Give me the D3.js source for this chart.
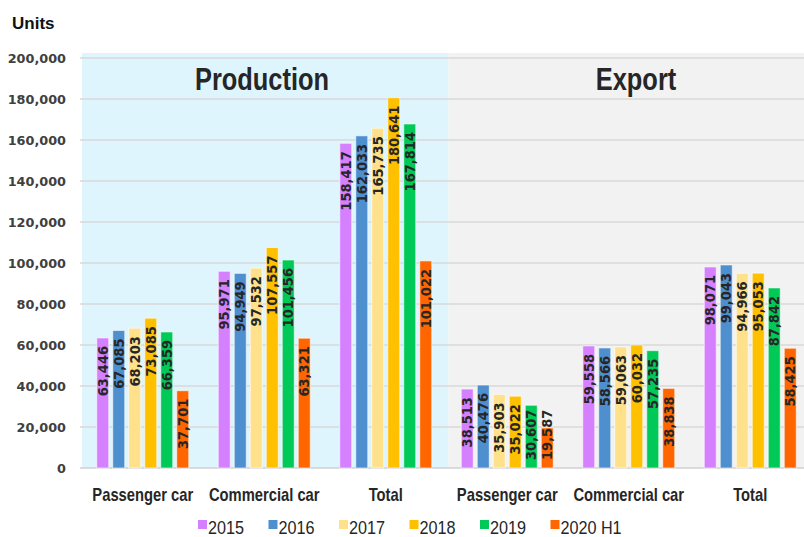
<!DOCTYPE html>
<html>
<head>
<meta charset="utf-8">
<script src="https://cdn.jsdelivr.net/npm/d3@7"></script>
<style>
  body { margin: 0; background: #fff; }
  svg { display: block; }
</style>
</head>
<body>
<script>
// series values, one array per year, in category order
const years = ['2015', '2016', '2017', '2018', '2019', '2020 H1'];
const categories = ['Passenger car', 'Commercial car', 'Total', 'Passenger car', 'Commercial car', 'Total'];
const sections = ['Production', 'Export'];
const v2015 = [63446, 95971, 158417, 38513, 59558, 98071];
const v2016 = [67085, 94949, 162033, 40476, 58566, 99043];
const v2017 = [68203, 97532, 165735, 35903, 59063, 94966];
const v2018 = [73085, 107557, 180641, 35022, 60032, 95053];
const v2019 = [66359, 101456, 167814, 30607, 57235, 87842];
const v2020 = [37701, 63321, 101022, 19587, 38838, 58425];
const yTicks = [0, 20000, 40000, 60000, 80000, 100000, 120000, 140000, 160000, 180000, 200000];

const colors = ['#d580ff', '#4e8fd0', '#ffe18c', '#ffc000', '#00c957', '#ff6600'];
const series = [v2015, v2016, v2017, v2018, v2019, v2020];

const W = 804, H = 537;
const plotL = 82, plotR = 811, plotT = 58, plotB = 468;
const narrow = 0.82; // no Arial Narrow here, squeeze Liberation Sans instead

const svg = d3.select('body').append('svg').attr('width', W).attr('height', H);

const x0 = d3.scaleBand().domain(d3.range(categories.length)).range([plotL, plotR]);
const x1 = d3.scaleBand().domain(years).range([0, 92]).paddingInner(0.25);
const y = d3.scaleLinear().domain([0, 200000]).range([plotB, plotT]);
const off = (x0.bandwidth() - 92) / 2;

// section backgrounds
svg.append('rect').attr('x', plotL).attr('y', plotT - 5)
  .attr('width', x0(3) + 2 - plotL).attr('height', plotB - plotT + 5).attr('fill', '#dff5fd');
svg.append('rect').attr('x', x0(3) + 2).attr('y', plotT - 5)
  .attr('width', W - x0(3) - 2).attr('height', plotB - plotT + 5).attr('fill', '#f2f2f2');

// grid
svg.append('g').selectAll('line').data(yTicks).enter().append('line')
  .attr('x1', plotL - 2).attr('x2', W)
  .attr('y1', d => y(d)).attr('y2', d => y(d))
  .attr('stroke', d => d === 0 ? '#d0d0d0' : '#d9d9d9').attr('stroke-width', 1.5);

// y axis labels
svg.append('g').selectAll('text').data(yTicks).enter().append('text')
  .attr('x', 66).attr('y', d => y(d)).attr('dy', '0.36em')
  .attr('text-anchor', 'end')
  .attr('font-family', 'DejaVu Sans').attr('font-weight', 'bold').attr('font-size', '12.8px')
  .attr('fill', '#404040')
  .text(d => d3.format(',')(d));

svg.append('text').attr('x', 12).attr('y', 29)
  .attr('font-family', 'Liberation Sans').attr('font-weight', 'bold').attr('font-size', '17px')
  .attr('fill', '#111').text('Units');

// section titles
svg.selectAll('.sec').data(sections).enter().append('text')
  .attr('class', 'sec')
  .attr('transform', (d, i) => 'translate(' + (i === 0 ? 262 : 636) + ',90) scale(' + narrow + ',1)')
  .attr('text-anchor', 'middle')
  .attr('font-family', 'Liberation Sans').attr('font-weight', 'bold').attr('font-size', '31px')
  .attr('fill', '#262626').text(d => d);

// bars
const groups = svg.append('g').selectAll('g').data(categories).enter().append('g')
  .attr('transform', (d, i) => 'translate(' + (x0(i) + off) + ',0)');

const cells = groups.selectAll('g').data((d, i) => years.map((yr, j) => ({ yr: yr, j: j, v: series[j][i] })))
  .enter().append('g');

cells.append('rect')
  .attr('x', d => x1(d.yr)).attr('width', x1.bandwidth())
  .attr('y', d => y(d.v)).attr('height', d => plotB - y(d.v))
  .attr('fill', d => colors[d.j])
  .attr('stroke', 'rgba(255,255,255,0.6)').attr('stroke-width', 1);

cells.append('text')
  .attr('font-family', 'DejaVu Sans Condensed').attr('font-weight', 'bold').attr('font-size', '14.5px')
  .attr('fill', '#262626').attr('text-anchor', 'end')
  .text(d => d3.format(',')(d.v))
  .each(function (d) {
    const len = this.getComputedTextLength();
    const yEnd = Math.min(y(d.v) + 8, plotB - 8 - len);
    const cx = x1(d.yr) + x1.bandwidth() / 2 + 5;
    d3.select(this).attr('transform', 'translate(' + cx + ',' + yEnd + ') rotate(-90)');
  });

// category labels
svg.append('g').selectAll('text').data(categories).enter().append('text')
  .attr('transform', (d, i) => 'translate(' + (x0(i) + x0.bandwidth() / 2) + ',501) scale(' + narrow + ',1)')
  .attr('text-anchor', 'middle')
  .attr('font-family', 'Liberation Sans').attr('font-weight', 'bold').attr('font-size', '18px')
  .attr('fill', '#262626').text(d => d);

// legend
const leg = svg.append('g').selectAll('g').data(years).enter().append('g')
  .attr('transform', (d, i) => 'translate(' + (198 + i * 70.5) + ',520)');
leg.append('rect').attr('width', 9).attr('height', 9).attr('fill', (d, i) => colors[i]);
leg.append('text').attr('x', 11).attr('y', 14)
  .attr('transform', 'scale(' + 0.9 + ',1)')
  .attr('font-family', 'Liberation Sans').attr('font-size', '18px')
  .attr('fill', '#262626').text(d => d);
</script>
</body>
</html>
